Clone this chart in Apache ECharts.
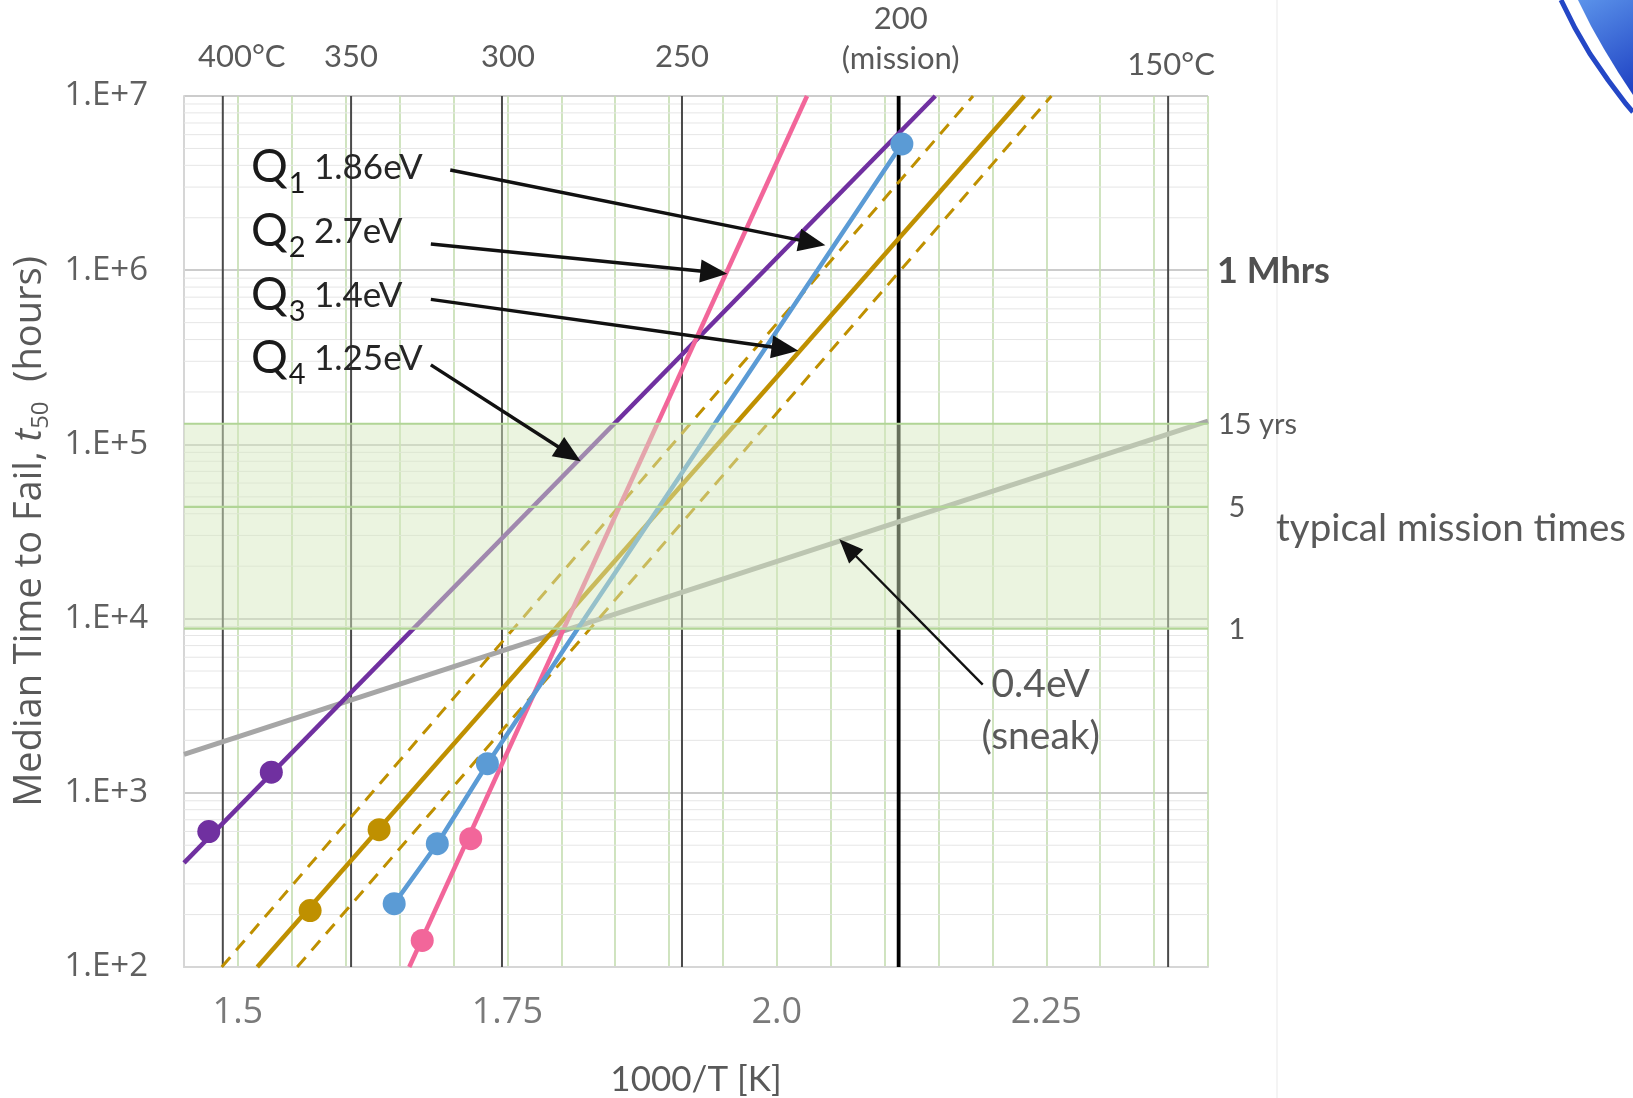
<!DOCTYPE html>
<html><head><meta charset="utf-8">
<script src="https://cdn.jsdelivr.net/npm/echarts@6/dist/echarts.min.js"></script>
<style>html,body{margin:0;padding:0;background:#fff;} #c{width:1633px;height:1098px;}</style>
</head><body><div id="c"></div>
<script>
// ---------- data ----------
const xLabelValues = [1.5, 1.75, 2.0, 2.25];
const xLabelTexts = ['1.5', '1.75', '2.0', '2.25'];
const yMinorMultipliers = [2, 3, 4, 5, 6, 7, 8, 9];
const yDecades = [100, 1000, 10000, 100000, 1000000];
const tempLineX = [1.486, 1.605, 1.745, 1.912, 2.113, 2.363];
const tempLabels = ['400°C', '350', '300', '250', '200\n(mission)', '150°C'];
// Q4 1.25eV (purple)
const q4Line = [[1.45, 396], [2.147, 1e7]];
const q4Points = [[1.473, 599], [1.531, 1313]];
// Q2 2.7eV (pink)
const q2Line = [[1.659, 100], [2.028, 1e7]];
const q2Points = [[1.671, 142], [1.716, 545]];
// Q1 1.86eV (blue)
const q1Points = [[1.645, 231], [1.685, 510], [1.7315, 1469], [2.116, 5.31e6]];
// Q3 1.4eV (gold) with dashed bounds
const q3Line = [[1.518, 100], [2.2295, 1e7]];
const q3Points = [[1.567, 211], [1.631, 614]];
const q3Upper = [[1.485, 100], [2.182, 1e7]];
const q3Lower = [[1.555, 100], [2.2547, 1e7]];
// 0.4eV sneak (gray)
const sneakLine = [[1.45, 1660], [2.40, 1.36e5]];
// typical mission times band (hours): 1, 5, 15 years
const missionBand = [8760, 131400];
const missionLines = [8760, 43800, 131400];
const missionLabels = ['1', '5', '15 yrs'];
// annotation arrows [x1, y1, x2, y2]
const qArrows = [
  [1.697, 3.76e6, 2.045, 1.39e6],
  [1.679, 1.415e6, 1.954, 9.55e5],
  [1.679, 6.8e5, 2.020, 3.45e5],
  [1.679, 2.86e5, 1.818, 8.0e4]
];
const sneakArrow = [[2.191, 4180, 2.058, 28500]];
const qLabels = [['1', '1.86eV'], ['2', '2.7eV'], ['3', '1.4eV'], ['4', '1.25eV']];

const PURPLE = '#7030A0', PINK = '#F2669A', BLUE = '#5B9BD5', GOLD = '#BF9000', GRAY = '#A6A6A6';
const X_MIN = 1.45, X_MAX = 2.4;

const chart = echarts.init(document.getElementById('c'), null, {renderer: 'canvas'});

function plainLine(data, color, width, dash, z) {
  return {type: 'line', data, symbol: 'none', showSymbol: false, silent: true, animation: false,
    lineStyle: {color, width, type: dash ? [13, 9] : 'solid', cap: 'butt'}, z: z || 2};
}
function dots(data, color) {
  return {type: 'scatter', data, symbol: 'circle', symbolSize: 23, silent: true, animation: false,
    itemStyle: {color, opacity: 1}, z: 2};
}

const minorValues = [];
yDecades.forEach(d => yMinorMultipliers.forEach(m => minorValues.push([X_MIN, d * m])));

function arrowItem(api, x1, y1, x2, y2, width, headL, headW) {
  const p1 = api.coord([x1, y1]), p2 = api.coord([x2, y2]);
  const dx = p2[0] - p1[0], dy = p2[1] - p1[1];
  const len = Math.sqrt(dx * dx + dy * dy);
  const ux = dx / len, uy = dy / len;
  const bx = p2[0] - ux * headL, by = p2[1] - uy * headL;
  return {type: 'group', children: [
    {type: 'line', shape: {x1: p1[0], y1: p1[1], x2: bx + ux * 2, y2: by + uy * 2},
      style: {stroke: '#111', lineWidth: width}},
    {type: 'polygon', shape: {points: [[p2[0], p2[1]], [bx - uy * headW, by + ux * headW], [bx + uy * headW, by - ux * headW]]},
      style: {fill: '#111'}}
  ]};
}

const option = {
  animation: false,
  backgroundColor: '#ffffff',
  textStyle: {fontFamily: 'Open Sans'},
  grid: {left: 184, top: 96, width: 1024, height: 871, containLabel: false, outerBoundsMode: 'none'},
  xAxis: {
    type: 'value', min: X_MIN, max: X_MAX, interval: 0.05,
    name: '1000/T [K]', nameLocation: 'middle', nameGap: 95,
    nameTextStyle: {fontFamily: 'Lato', fontSize: 35, color: '#595959'},
    axisLine: {show: true, lineStyle: {color: '#d6d6d6', width: 2}},
    axisTick: {show: false},
    splitLine: {show: true, lineStyle: {color: '#c4ddb0', width: 1.6}},
    axisLabel: {
      margin: 28, fontSize: 36, color: '#7a7a7a', fontFamily: 'Open Sans',
      formatter: v => {
        const i = xLabelValues.findIndex(t => Math.abs(t - v) < 1e-6);
        return i >= 0 ? xLabelTexts[i] : '';
      }
    }
  },
  yAxis: {
    type: 'log', logBase: 10, min: 100, max: 1e7,
    name: 'Median Time to Fail, {it|t}{sub|50}  (hours)', nameLocation: 'middle', nameGap: 130,
    nameTextStyle: {fontFamily: 'Open Sans', fontSize: 38, color: '#595959',
      rich: {
        it: {fontFamily: 'Open Sans', fontStyle: 'italic', fontSize: 38, color: '#595959', lineHeight: 46},
        sub: {fontFamily: 'Open Sans', fontSize: 24, color: '#595959', verticalAlign: 'bottom', lineHeight: 20}
      }},
    axisLine: {show: true, lineStyle: {color: '#d6d6d6', width: 2}},
    axisTick: {show: false},
    splitLine: {show: true, lineStyle: {color: '#cccccc', width: 2}},
    axisLabel: {
      margin: 36, fontSize: 33, color: '#606060', fontFamily: 'Open Sans',
      formatter: v => '1.E+' + Math.round(Math.log10(v))
    }
  },
  series: [
    // minor log grid lines
    {type: 'custom', z: 1, silent: true, animation: false, data: minorValues,
      renderItem: (params, api) => {
        const cs = params.coordSys;
        const y = api.coord([api.value(0), api.value(1)])[1];
        return {type: 'line', shape: {x1: cs.x, y1: y, x2: cs.x + cs.width, y2: y},
          style: {stroke: '#e6e6e6', lineWidth: 1}};
      }},
    // temperature lines
    {type: 'custom', z: 1, silent: true, animation: false,
      data: tempLineX.map((x, i) => [x, 1000, i]),
      renderItem: (params, api) => {
        const cs = params.coordSys;
        const x = api.coord([api.value(0), api.value(1)])[0];
        const thick = api.value(2) === 4;
        return {type: 'line', shape: {x1: x, y1: cs.y, x2: x, y2: cs.y + cs.height},
          style: {stroke: thick ? '#000' : '#4a4a4a', lineWidth: thick ? 3.8 : 2}};
      }},
    plainLine(sneakLine, GRAY, 5),
    plainLine(q3Upper, GOLD, 3, true),
    plainLine(q3Lower, GOLD, 3, true),
    plainLine(q3Line, GOLD, 4.5),
    plainLine(q4Line, PURPLE, 4.5),
    plainLine(q2Line, PINK, 4.5),
    {type: 'line', data: q1Points, symbol: 'circle', symbolSize: 23, showSymbol: true, silent: true, animation: false,
      lineStyle: {color: BLUE, width: 4.5}, itemStyle: {color: BLUE}, z: 2},
    dots(q4Points, PURPLE),
    dots(q3Points, GOLD),
    dots(q2Points, PINK),
    // mission-time band (overlays the lines, as in the reference)
    {type: 'custom', z: 3, silent: true, animation: false,
      data: [[X_MIN, missionBand[0], missionBand[1]]],
      renderItem: (params, api) => {
        const cs = params.coordSys;
        const yTop = api.coord([api.value(0), api.value(2)])[1];
        const yBot = api.coord([api.value(0), api.value(1)])[1];
        const children = [{type: 'rect', shape: {x: cs.x, y: yTop, width: cs.width, height: yBot - yTop},
          style: {fill: 'rgba(214,232,190,0.48)'}}];
        missionLines.forEach(v => {
          const yy = api.coord([api.value(0), v])[1];
          children.push({type: 'line', shape: {x1: cs.x, y1: yy, x2: cs.x + cs.width, y2: yy},
            style: {stroke: '#b1d596', lineWidth: 2.2}});
        });
        return {type: 'group', children};
      }},
    // annotation arrows
    {type: 'custom', z: 6, silent: true, animation: false, data: qArrows,
      renderItem: (params, api) => arrowItem(api, api.value(0), api.value(1), api.value(2), api.value(3), 3.4, 27, 11.5)},
    {type: 'custom', z: 6, silent: true, animation: false, data: sneakArrow,
      renderItem: (params, api) => arrowItem(api, api.value(0), api.value(1), api.value(2), api.value(3), 2.4, 24, 10)}
  ]
};
chart.setOption(option);

function px(x, y) { return chart.convertToPixel({gridIndex: 0}, [x, y]); }
const measure = document.createElement('canvas').getContext('2d');
function textW(t, font) { measure.font = font; return measure.measureText(t).width; }

const g = [];
const ANN = 'Lato';
// temperature labels on top
const tempDx = [19, 0, 6, 0, 2, 3];
const tempY = [57, 57, 57, 57, 39, 65];
tempLineX.forEach((x, i) => {
  g.push({type: 'text', z: 100, silent: true, style: {
    text: tempLabels[i], x: px(x, 1000)[0] + tempDx[i], y: tempY[i],
    align: 'center', verticalAlign: 'middle', fontFamily: ANN, fontSize: 31, lineHeight: 40, fill: '#595959'}});
});
// Q labels: Q + subscript index + activation energy
const qRowY = [167, 231, 295, 358];
const qX = 251, qSize = 46, subSize = 29, valSize = 35;
const qW = textW('Q', qSize + 'px ' + ANN);
qLabels.forEach((q, i) => {
  const y = qRowY[i];
  g.push({type: 'text', z: 100, silent: true, style: {text: 'Q', x: qX, y: y,
    align: 'left', verticalAlign: 'middle', fontFamily: ANN, fontSize: qSize, fill: '#1a1a1a'}});
  g.push({type: 'text', z: 100, silent: true, style: {text: q[0], x: qX + qW + 1, y: y + 17,
    align: 'left', verticalAlign: 'middle', fontFamily: ANN, fontSize: subSize, fill: '#1a1a1a'}});
  g.push({type: 'text', z: 100, silent: true, style: {text: q[1], x: 314, y: y + 1,
    align: 'left', verticalAlign: 'middle', fontFamily: ANN, fontSize: valSize, fill: '#262626'}});
});
// right-side labels
const rightX = px(X_MAX, 1e6)[0];
g.push({type: 'text', z: 100, silent: true, style: {text: '1 Mhrs', x: rightX + 9, y: px(X_MAX, 1e6)[1] + 1,
  align: 'left', verticalAlign: 'middle', fontFamily: ANN, fontSize: 36, fontWeight: 'bold', fill: '#505050'}});
missionLines.forEach((v, i) => {
  const last = i === missionLines.length - 1;
  g.push({type: 'text', z: 100, silent: true, style: {text: missionLabels[i],
    x: last ? rightX + 10 : rightX + 29, y: px(X_MAX, v)[1] + 1,
    align: last ? 'left' : 'center', verticalAlign: 'middle', fontFamily: ANN, fontSize: 29, fill: '#595959'}});
});
g.push({type: 'text', z: 100, silent: true, style: {text: 'typical mission times', x: rightX + 243, y: px(X_MAX, 43800)[1] + 22,
  align: 'center', verticalAlign: 'middle', fontFamily: ANN, fontSize: 38.5, fill: '#595959'}});
// sneak label
const sp = px(sneakArrow[0][0], sneakArrow[0][1]);
g.push({type: 'text', z: 100, silent: true, style: {text: '0.4eV\n(sneak)', x: sp[0] + 58, y: sp[1] + 26,
  align: 'center', verticalAlign: 'middle', fontFamily: ANN, fontSize: 39, lineHeight: 52, fill: '#595959'}});
// faint frame line on the right and corner decoration
g.push({type: 'line', z: 0, silent: true, shape: {x1: 1277, y1: 0, x2: 1277, y2: 1098}, style: {stroke: '#f1f1f1', lineWidth: 1.5}});
g.push({type: 'polygon', z: 100, silent: true, shape: {points: [[1578, 0], [1591, 26], [1604, 49], [1618, 72], [1633, 95], [1633, 0]]},
  style: {fill: {type: 'linear', x: 0, y: 0, x2: 1, y2: 1, colorStops: [{offset: 0, color: '#5b93ea'}, {offset: 1, color: '#1d3fc2'}]}}});
g.push({type: 'polyline', z: 100, silent: true, shape: {points: [[1561, 0], [1575, 28], [1590, 54], [1608, 80], [1626, 104], [1633, 112]]},
  style: {stroke: '#2447c6', lineWidth: 5, fill: null}});
chart.setOption({graphic: g});
</script>
</body></html>
